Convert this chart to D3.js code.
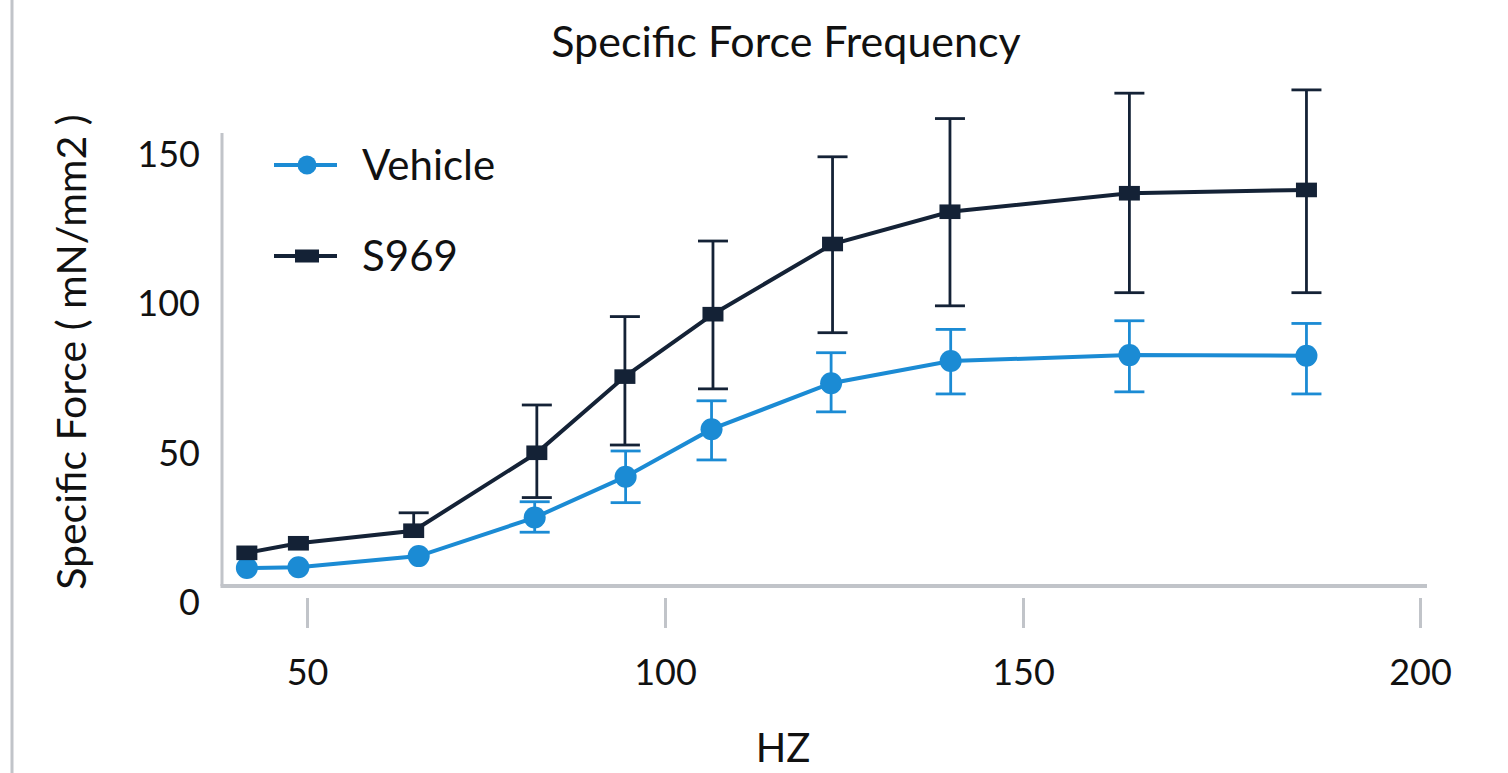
<!DOCTYPE html>
<html>
<head>
<meta charset="utf-8">
<script src="https://cdn.jsdelivr.net/npm/d3@7"></script>
<style>
  body { margin: 0; background: #fff; }
  svg { display: block; font-family: Lato, "Open Sans", sans-serif; }
</style>
</head>
<body>
<div id="chart"></div>
<script>
var width = 1508;
var height = 773;

// data
var seriesNames = ["Vehicle", "S969"];
var hzVehicle = [41.6, 48.8, 65.6, 81.8, 94.5, 106.5, 123.2, 139.9, 163.4, 185.7];
var forceVehicle = [11.7, 12.0, 15.7, 28.6, 42.3, 58.2, 73.6, 81.0, 83.0, 82.8];
var errUpVehicle = [0, 0, 0, 5.3, 8.6, 9.5, 10.2, 10.6, 11.5, 10.8];
var errDownVehicle = [0, 0, 0, 4.9, 8.7, 10.3, 9.6, 11.0, 12.3, 12.8];

var hzS969 = [41.6, 48.8, 64.9, 82.1, 94.4, 106.7, 123.4, 139.8, 163.4, 185.7];
var forceS969 = [16.8, 20.0, 24.2, 50.3, 75.8, 96.7, 120.2, 131.0, 137.2, 138.3];
var errUpS969 = [0, 0, 6.0, 16.0, 20.1, 24.5, 29.2, 31.2, 33.5, 33.5];
var errDownS969 = [0, 0, 0, 15.0, 22.9, 25.0, 29.7, 31.5, 33.3, 34.4];

var xTicks = [50, 100, 150, 200];
var yTicks = [0, 50, 100, 150];

var colors = { Vehicle: "#1b8bd4", S969: "#142236" };
var axisColor = "#c1c4c9";

function rows(hz, f, up, down) {
    return hz.map(function(h, i) {
        return { hz: h, force: f[i], up: up[i], down: down[i] };
    });
}
var series = [
    { name: "Vehicle", values: rows(hzVehicle, forceVehicle, errUpVehicle, errDownVehicle) },
    { name: "S969", values: rows(hzS969, forceS969, errUpS969, errDownS969) }
];

// the original's last tick interval is wider, so use a piecewise scale
var x = d3.scaleLinear()
    .domain(xTicks)
    .range([307, 665, 1023, 1420]);

var y = d3.scaleLinear()
    .domain([0, 150])
    .range([603, 155]);

var axisLeftX = 222;
var axisBottomY = 586;

var svg = d3.select("#chart")
    .append("svg")
    .attr("width", width)
    .attr("height", height);

// left border line
svg.append("line")
    .attr("x1", 12).attr("x2", 12)
    .attr("y1", 0).attr("y2", height)
    .attr("stroke", axisColor)
    .attr("stroke-width", 3);

// title
svg.append("text")
    .attr("x", 786)
    .attr("y", 57)
    .attr("text-anchor", "middle")
    .attr("font-size", 43)
    .attr("fill", "#111")
    .text("Specific Force Frequency");

// y axis
var yAxis = svg.append("g")
    .attr("transform", "translate(" + axisLeftX + ",0)")
    .call(d3.axisLeft(y).tickValues(yTicks).tickSize(0).tickPadding(22));
yAxis.select(".domain").remove();
yAxis.selectAll("text")
    .attr("font-size", 36)
    .attr("font-family", "Lato, sans-serif")
    .attr("fill", "#111");

svg.append("line")
    .attr("x1", axisLeftX).attr("x2", axisLeftX)
    .attr("y1", 133).attr("y2", axisBottomY)
    .attr("stroke", axisColor)
    .attr("stroke-width", 3);

// x axis
var xAxis = svg.append("g")
    .attr("transform", "translate(0," + axisBottomY + ")")
    .call(d3.axisBottom(x).tickValues(xTicks).tickSize(0));
xAxis.select(".domain").remove();
xAxis.selectAll(".tick line")
    .attr("y1", 12)
    .attr("y2", 42)
    .attr("stroke", axisColor)
    .attr("stroke-width", 3);
xAxis.selectAll(".tick text")
    .attr("y", 99)
    .attr("dy", 0)
    .attr("font-size", 36)
    .attr("font-family", "Lato, sans-serif")
    .attr("fill", "#111");

svg.append("line")
    .attr("x1", axisLeftX - 1.5).attr("x2", 1427)
    .attr("y1", axisBottomY).attr("y2", axisBottomY)
    .attr("stroke", axisColor)
    .attr("stroke-width", 4);

// axis titles
svg.append("text")
    .attr("x", 783)
    .attr("y", 762)
    .attr("text-anchor", "middle")
    .attr("font-size", 40)
    .attr("fill", "#111")
    .text("HZ");

svg.append("text")
    .attr("transform", "translate(86,352) rotate(-90)")
    .attr("text-anchor", "middle")
    .attr("font-size", 41)
    .attr("fill", "#111")
    .text("Specific Force ( mN/mm2 )");

// series
var line = d3.line()
    .x(function(d) { return x(d.hz); })
    .y(function(d) { return y(d.force); });

var groups = svg.selectAll("g.series")
    .data(series)
    .enter()
    .append("g")
    .attr("class", "series");

// error bars (only where there is one)
groups.each(function(s) {
    var g = d3.select(this);
    var c = colors[s.name];
    var eb = g.selectAll("g.err")
        .data(s.values.filter(function(d) { return d.up > 0 || d.down > 0; }))
        .enter()
        .append("g")
        .attr("class", "err")
        .attr("stroke", c)
        .attr("stroke-width", 2.8);
    eb.append("line")
        .attr("x1", function(d) { return x(d.hz); })
        .attr("x2", function(d) { return x(d.hz); })
        .attr("y1", function(d) { return y(d.force + d.up); })
        .attr("y2", function(d) { return y(d.force - d.down); });
    eb.filter(function(d) { return d.up > 0; })
        .append("line")
        .attr("x1", function(d) { return x(d.hz) - 15; })
        .attr("x2", function(d) { return x(d.hz) + 15; })
        .attr("y1", function(d) { return y(d.force + d.up); })
        .attr("y2", function(d) { return y(d.force + d.up); });
    eb.filter(function(d) { return d.down > 0; })
        .append("line")
        .attr("x1", function(d) { return x(d.hz) - 15; })
        .attr("x2", function(d) { return x(d.hz) + 15; })
        .attr("y1", function(d) { return y(d.force - d.down); })
        .attr("y2", function(d) { return y(d.force - d.down); });
});

groups.append("path")
    .attr("d", function(d) { return line(d.values); })
    .attr("fill", "none")
    .attr("stroke", function(d) { return colors[d.name]; })
    .attr("stroke-width", 4);

// markers
groups.each(function(s) {
    var g = d3.select(this);
    var c = colors[s.name];
    if (s.name === "Vehicle") {
        g.selectAll("circle")
            .data(s.values)
            .enter()
            .append("circle")
            .attr("cx", function(d) { return x(d.hz); })
            .attr("cy", function(d) { return y(d.force); })
            .attr("r", 11)
            .attr("fill", c);
    } else {
        g.selectAll("rect")
            .data(s.values)
            .enter()
            .append("rect")
            .attr("x", function(d) { return x(d.hz) - 10.5; })
            .attr("y", function(d) { return y(d.force) - 7.3; })
            .attr("width", 21)
            .attr("height", 14.6)
            .attr("fill", c);
    }
});

// legend
var legend = svg.append("g");
var legendY = [165, 256];
seriesNames.forEach(function(name, i) {
    var c = colors[name];
    var ly = legendY[i];
    legend.append("line")
        .attr("x1", 274).attr("x2", 337)
        .attr("y1", ly).attr("y2", ly)
        .attr("stroke", c)
        .attr("stroke-width", 4);
    if (name === "Vehicle") {
        legend.append("circle")
            .attr("cx", 307).attr("cy", ly)
            .attr("r", 9.5)
            .attr("fill", c);
    } else {
        legend.append("rect")
            .attr("x", 295).attr("y", ly - 6.5)
            .attr("width", 24).attr("height", 13)
            .attr("fill", c);
    }
    legend.append("text")
        .attr("x", 362)
        .attr("y", ly + 15)
        .attr("font-size", 42)
        .attr("fill", "#111")
        .text(name);
});
</script>
</body>
</html>
